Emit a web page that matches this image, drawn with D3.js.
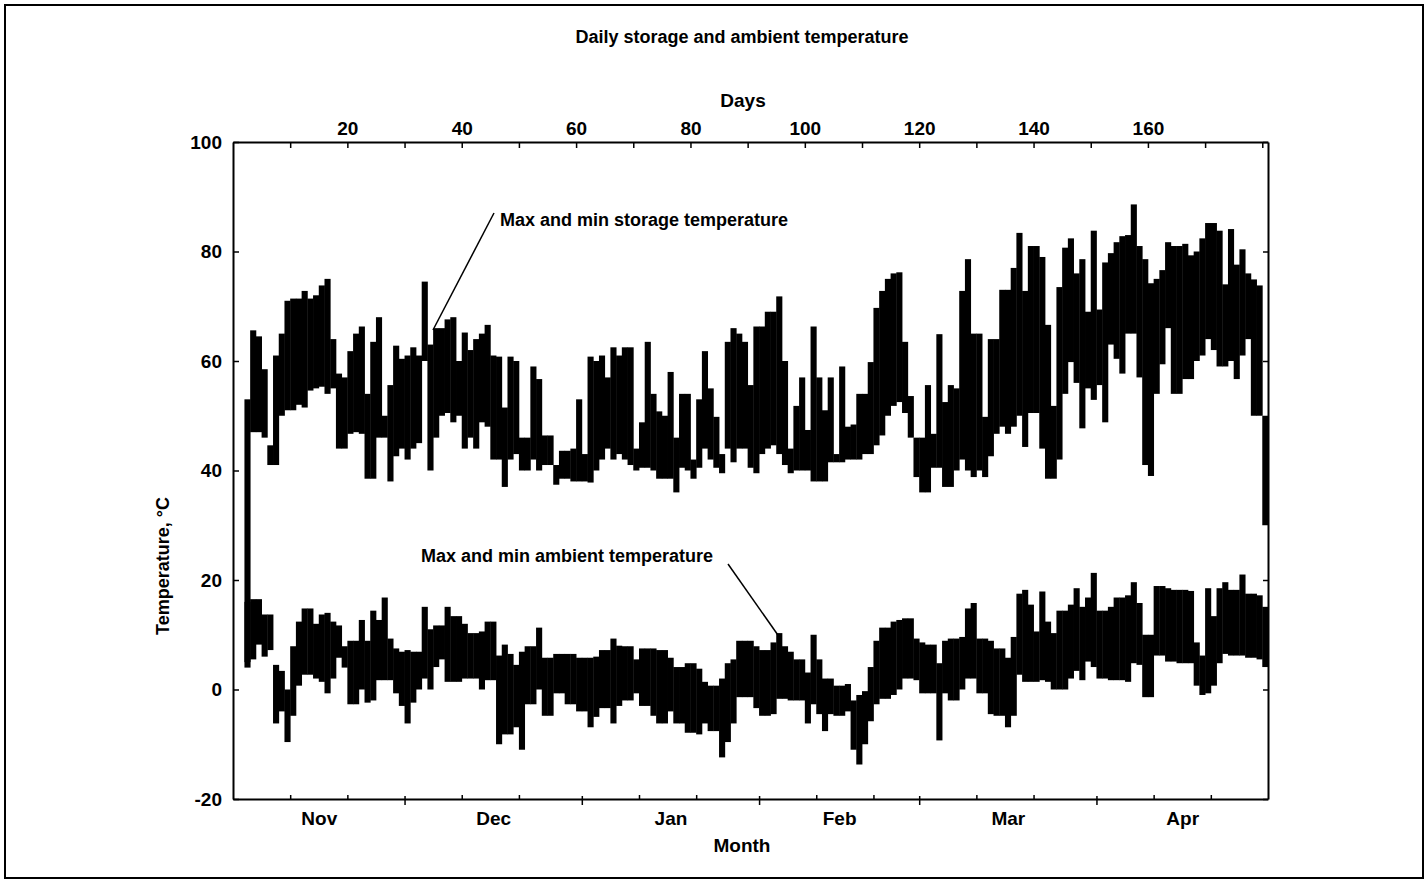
<!DOCTYPE html>
<html>
<head>
<meta charset="utf-8">
<script src="https://cdn.jsdelivr.net/npm/d3@7"></script>
<style>
	body { margin: 0; background: #fff; }
	text { font-family: "Liberation Sans", Arial, sans-serif; font-weight: bold; fill: #000; }
</style>
</head>
<body>
<svg></svg>
<script>
// daily values, first entry is day 2 (counted from Nov 1)
var firstDay = 2;

var storageMax = [
	53, 65.6, 64.5, 58.5, 44.6, 61, 65, 71, 71.4, 71.4,
	72.8, 71.4, 72, 73.8, 75, 64, 57.7, 57, 61.8, 65,
	66.3, 54, 63.5, 68, 50, 55.6, 62.8, 60.4, 61, 62.5,
	61, 74.5, 63, 66, 66, 67.6, 68, 60, 65.2, 62,
	64, 65, 66.6, 61, 60.8, 51.5, 60.8, 60, 46, 46,
	59, 56.7, 46.4, 46.4, 41, 43.6, 43.6, 44, 53, 43,
	60.8, 60, 61, 57, 62.5, 61, 62.5, 62.5, 44, 48.8,
	63.5, 54, 50.8, 50, 58, 46, 54, 54, 42, 53,
	61.8, 55, 49.8, 43, 63.5, 66, 65, 63.5, 55.6, 66.3,
	66.3, 69, 69, 71.8, 60, 44, 51.8, 57, 47.4, 66.3,
	57, 51, 57, 43, 59, 48, 48.4, 54, 54, 59.8,
	69.7, 72.8, 75, 76, 76.2, 63.5, 53.6, 46, 46, 55.6,
	46.7, 64.9, 52.5, 55.6, 55, 72.8, 78.6, 65, 65, 49.8,
	64, 64, 73, 73, 77, 83.4, 72.8, 81, 81, 79,
	66.6, 51.8, 73.5, 80.7, 82.4, 76, 78.6, 69, 83.8, 69.4,
	78, 79.7, 81.7, 82.8, 83, 88.6, 81, 78.6, 74.2, 75,
	76.6, 81.7, 81, 81, 81.4, 79.3, 80, 82.4, 85.2, 85.2,
	83.8, 74, 84.1, 77.6, 80.4, 76, 74.9, 73.8, 50
];
var storageMin = [
	4, 47, 47, 46, 41, 41, 50, 51, 51, 52,
	51.5, 54.6, 55, 55.3, 54, 55, 44, 44, 46.7, 47,
	46.7, 38.5, 38.5, 46, 46, 38, 42.6, 44, 42, 44,
	45, 60, 40, 46, 50, 50.5, 48.8, 50, 44, 46,
	44, 48.8, 48, 42, 42, 37, 42, 43, 40, 40,
	42, 40, 41, 41, 37.4, 38.5, 38.5, 38, 38, 38,
	37.8, 40, 42, 44, 42, 43, 42, 41, 40, 40.5,
	40.5, 40, 38.5, 38.5, 38.5, 36, 40.5, 40, 38.5, 40.5,
	44, 42, 40.5, 39.5, 44, 41.5, 44, 44, 40.5, 39.5,
	43, 44, 44.6, 43, 41, 39.5, 40, 40, 40, 38,
	38, 38, 41.5, 41.5, 41.5, 42, 42, 42, 43, 43,
	44.6, 46.4, 50, 51.8, 52.5, 50.5, 46, 38.8, 36, 36,
	40.5, 40.5, 37, 37, 40, 42, 40, 38.8, 40, 38.8,
	42.6, 46.7, 48, 46.7, 48, 50, 44.3, 50.5, 50.5, 44,
	38.5, 38.5, 42, 54, 59.8, 56, 47.7, 55, 52.9, 55.6,
	48.8, 63, 60.4, 57.7, 65, 65, 57, 41, 39, 54,
	59.4, 66, 54, 54, 56.7, 56.7, 60, 61, 64, 62,
	59, 59, 60, 56.7, 61, 64, 50, 50, 30
];
var ambientMax = [
	16, 16.5, 16.5, 13.7, 13.7, 4.5, 3.4, 0, 7.9, 12.4,
	14.8, 14.8, 12, 13.7, 14, 12.4, 11.7, 7.9, 8.9, 8.9,
	12.7, 8.9, 14.4, 12.7, 16.8, 9.3, 7.5, 6.9, 7.2, 6.9,
	6.9, 15.1, 11, 11.7, 11.7, 15.1, 13.4, 13.4, 12, 10.3,
	10.3, 10.6, 12.4, 12.4, 6.2, 8.2, 6.5, 4.5, 6.9, 7.9,
	7.9, 11.3, 5.8, 5.8, 6.5, 6.5, 6.5, 6.5, 5.8, 5.8,
	5.8, 6, 7.2, 7.2, 9.3, 8, 7.9, 7.9, 5.5, 7.5,
	7.5, 7.5, 7.2, 7.2, 5.8, 4.1, 4.1, 4.8, 4.8, 3.8,
	1.4, 0.7, 0.7, 2, 4.8, 5.5, 8.9, 8.9, 8.9, 7.9,
	7.2, 7.2, 8.6, 10.3, 7.9, 6.9, 5.5, 5.5, 3.1, 10,
	5.5, 2, 2, 0.7, 0.7, 1, -2, -1, -0.3, 4.1,
	8.9, 11.3, 11.3, 12.4, 12.7, 13, 13, 9.3, 8.6, 8.2,
	8.2, 4.8, 8.9, 9.3, 9.3, 9.6, 14.8, 15.8, 9.3, 9.3,
	8.9, 7.5, 7.5, 5.8, 9.6, 17.5, 18.2, 15.5, 10.6, 17.9,
	12.4, 10.3, 14.4, 14.4, 15.5, 18.5, 15.1, 16.8, 21.3, 14.4,
	14.4, 15.1, 16.8, 16.8, 17.2, 19.6, 15.8, 10, 10, 18.9,
	18.9, 18.5, 18.2, 18.2, 18.2, 18, 8.6, 6.2, 18.5, 13.4,
	18.5, 19.6, 18.2, 18.2, 21, 17.5, 17.5, 17.2, 15.1
];
var ambientMin = [
	5, 5.5, 8.2, 6, 7.2, -6.2, -4, -9.6, -4.8, 0.7,
	2.7, 2.7, 2, 1.4, -0.7, 2, 5.8, 4, -2.7, -2.7,
	0, -2.4, -2, 1.7, 1.7, 1.7, -0.7, -3, -6.2, -2.4,
	0, 2, 0, 4.1, 5.5, 1.4, 1.4, 1.4, 2, 2,
	2, 0, 1.7, 1.7, -10, -8.2, -8.2, -6.9, -11, -2.7,
	-2.7, 0, -4.8, -4.8, -0.7, -0.7, -2.7, -2.7, -4, -4,
	-6.9, -5, -3.4, -3.4, -6.2, -3, -2, -2, -0.7, -3,
	-3, -4.8, -6.2, -6.2, -4, -6.2, -6.2, -7.9, -7.9, -8.2,
	-6.2, -7.6, -7.6, -12.4, -9.6, -6.2, -1.4, -1.4, -1.4, -3.4,
	-4.8, -4.8, -4.5, -1.7, -1.7, -2, -2, -2, -6.2, -2.7,
	-4.5, -7.6, -4.5, -4.8, -4.8, -4, -11, -13.7, -10, -5.8,
	-2.7, -1.7, -1.7, -1, 0, 2, 2, 1.7, -0.7, -0.7,
	-0.7, -9.3, -0.7, -2, -2, 0, 2, 2, -0.7, -0.7,
	-4.5, -4.8, -4.8, -6.9, -4.8, 2.7, 1.4, 1.4, 1.4, 1.7,
	1.4, 0, 0, 0, 2, 3.4, 1.7, 5.1, 4.1, 2,
	2, 1.7, 1.7, 1.7, 1.4, 4.8, 4.5, -1.4, -1.4, 6.2,
	6.2, 5.1, 5.1, 4.8, 4.8, 4.8, 0.7, -1, -0.7, 0.7,
	4.8, 6.5, 6.2, 6.2, 6.2, 5.8, 5.8, 5.5, 4.1
];

var dayTicks = d3.range(10, 181, 10);
var dayLabels = [20, 40, 60, 80, 100, 120, 140, 160];
var tempTicks = [-20, 0, 20, 40, 60, 80, 100];
var seasonStart = new Date(1994, 10, 1);
var seasonEnd = new Date(1995, 4, 1);

var W = 1428, H = 882;
var plotLeft = 233, plotRight = 1268, plotTop = 142, plotBottom = 799;

var svg = d3.select('svg').attr('width', W).attr('height', H);

// frame round the figure
svg.append('rect')
	.attr('x', 5).attr('y', 5)
	.attr('width', W - 10).attr('height', H - 9)
	.attr('fill', 'none').attr('stroke', '#000').attr('stroke-width', 2);

var xDay = d3.scaleLinear().domain([0, 181]).range([plotLeft, plotRight]);
var xTime = d3.scaleTime().domain([seasonStart, seasonEnd]).range([plotLeft, plotRight]);
var y = d3.scaleLinear().domain([-20, 100]).range([plotBottom, plotTop]);

function rows(hi, lo) {
	return hi.map((v, i) => ({ day: firstDay + i, hi: v, lo: lo[i] }));
}

// bars: one per day, min to max
[ rows(storageMax, storageMin), rows(ambientMax, ambientMin) ].forEach((series) => {
	svg.append('g')
		.selectAll('rect')
		.data(series)
		.enter()
		.append('rect')
		.attr('x', (d) => xDay(d.day))
		.attr('width', (d) => xDay(d.day + 1) - xDay(d.day) + 0.4)
		.attr('y', (d) => y(d.hi))
		.attr('height', (d) => y(d.lo) - y(d.hi))
		.attr('fill', '#000');
});

// axes:

function styleAxis(g, size) {
	g.attr('font-family', null).attr('font-size', null);
	g.select('.domain').attr('stroke-width', 2);
	g.selectAll('.tick line').attr('stroke-width', 1.5);
	g.selectAll('text').style('font-size', size + 'px');
}

svg.append('g')
	.attr('transform', 'translate(0,' + plotTop + ')')
	.call(d3.axisTop(xDay).tickValues(dayTicks).tickSize(-6).tickSizeOuter(0).tickPadding(7)
		.tickFormat((d) => (dayLabels.includes(d) ? d : '')))
	.call((g) => styleAxis(g, 19));

svg.append('g')
	.attr('transform', 'translate(' + plotLeft + ',0)')
	.call(d3.axisLeft(y).tickValues(tempTicks).tickSize(-6).tickSizeOuter(0).tickPadding(11)
		.tickFormat((d) => String(d)))
	.call((g) => styleAxis(g, 19));

svg.append('g')
	.attr('transform', 'translate(' + plotRight + ',0)')
	.call(d3.axisRight(y).tickValues(tempTicks).tickSize(-5).tickSizeOuter(0).tickFormat(''))
	.call((g) => styleAxis(g, 19));

// bottom: month edges cross the axis, thirds of months point inward
var monthStarts = d3.timeMonth.range(seasonStart, seasonEnd);
var thirds = [];
monthStarts.forEach((m) => {
	thirds.push(d3.timeDay.offset(m, 10), d3.timeDay.offset(m, 20));
});
var mids = monthStarts.map((m) => new Date((+m + +d3.timeMonth.offset(m, 1)) / 2));

svg.append('g')
	.attr('transform', 'translate(0,' + plotBottom + ')')
	.call(d3.axisBottom(xTime).tickValues(thirds).tickSize(-4).tickSizeOuter(0).tickFormat(''))
	.call((g) => styleAxis(g, 19));

svg.append('g')
	.attr('transform', 'translate(0,' + (plotBottom - 3) + ')')
	.call(d3.axisBottom(xTime).tickValues(monthStarts.slice(1)).tickSize(9).tickSizeOuter(0).tickFormat(''))
	.call((g) => styleAxis(g, 19))
	.call((g) => g.select('.domain').remove());

svg.append('g')
	.attr('transform', 'translate(0,' + plotBottom + ')')
	.call(d3.axisBottom(xTime).tickValues(mids).tickSize(0).tickPadding(13).tickFormat(d3.timeFormat('%b')))
	.call((g) => styleAxis(g, 19))
	.call((g) => g.select('.domain').remove());

// titles and labels:

svg.append('text')
	.attr('x', 742).attr('y', 43)
	.attr('text-anchor', 'middle')
	.style('font-size', '18px')
	.text('Daily storage and ambient temperature');

svg.append('text')
	.attr('x', 743).attr('y', 107)
	.attr('text-anchor', 'middle')
	.style('font-size', '19px')
	.text('Days');

svg.append('text')
	.attr('x', 742).attr('y', 852)
	.attr('text-anchor', 'middle')
	.style('font-size', '19px')
	.text('Month');

svg.append('text')
	.attr('transform', 'translate(169,566) rotate(-90)')
	.attr('text-anchor', 'middle')
	.style('font-size', '18px')
	.text('Temperature, °C');

// call-outs:

svg.append('text')
	.attr('x', 500).attr('y', 226)
	.style('font-size', '18px')
	.text('Max and min storage temperature');

svg.append('line')
	.attr('x1', 494).attr('y1', 213)
	.attr('x2', 433).attr('y2', 330)
	.attr('stroke', '#000').attr('stroke-width', 1.5);

svg.append('text')
	.attr('x', 421).attr('y', 562)
	.style('font-size', '18px')
	.text('Max and min ambient temperature');

svg.append('line')
	.attr('x1', 728).attr('y1', 564)
	.attr('x2', 780).attr('y2', 638)
	.attr('stroke', '#000').attr('stroke-width', 1.5);
</script>
</body>
</html>
